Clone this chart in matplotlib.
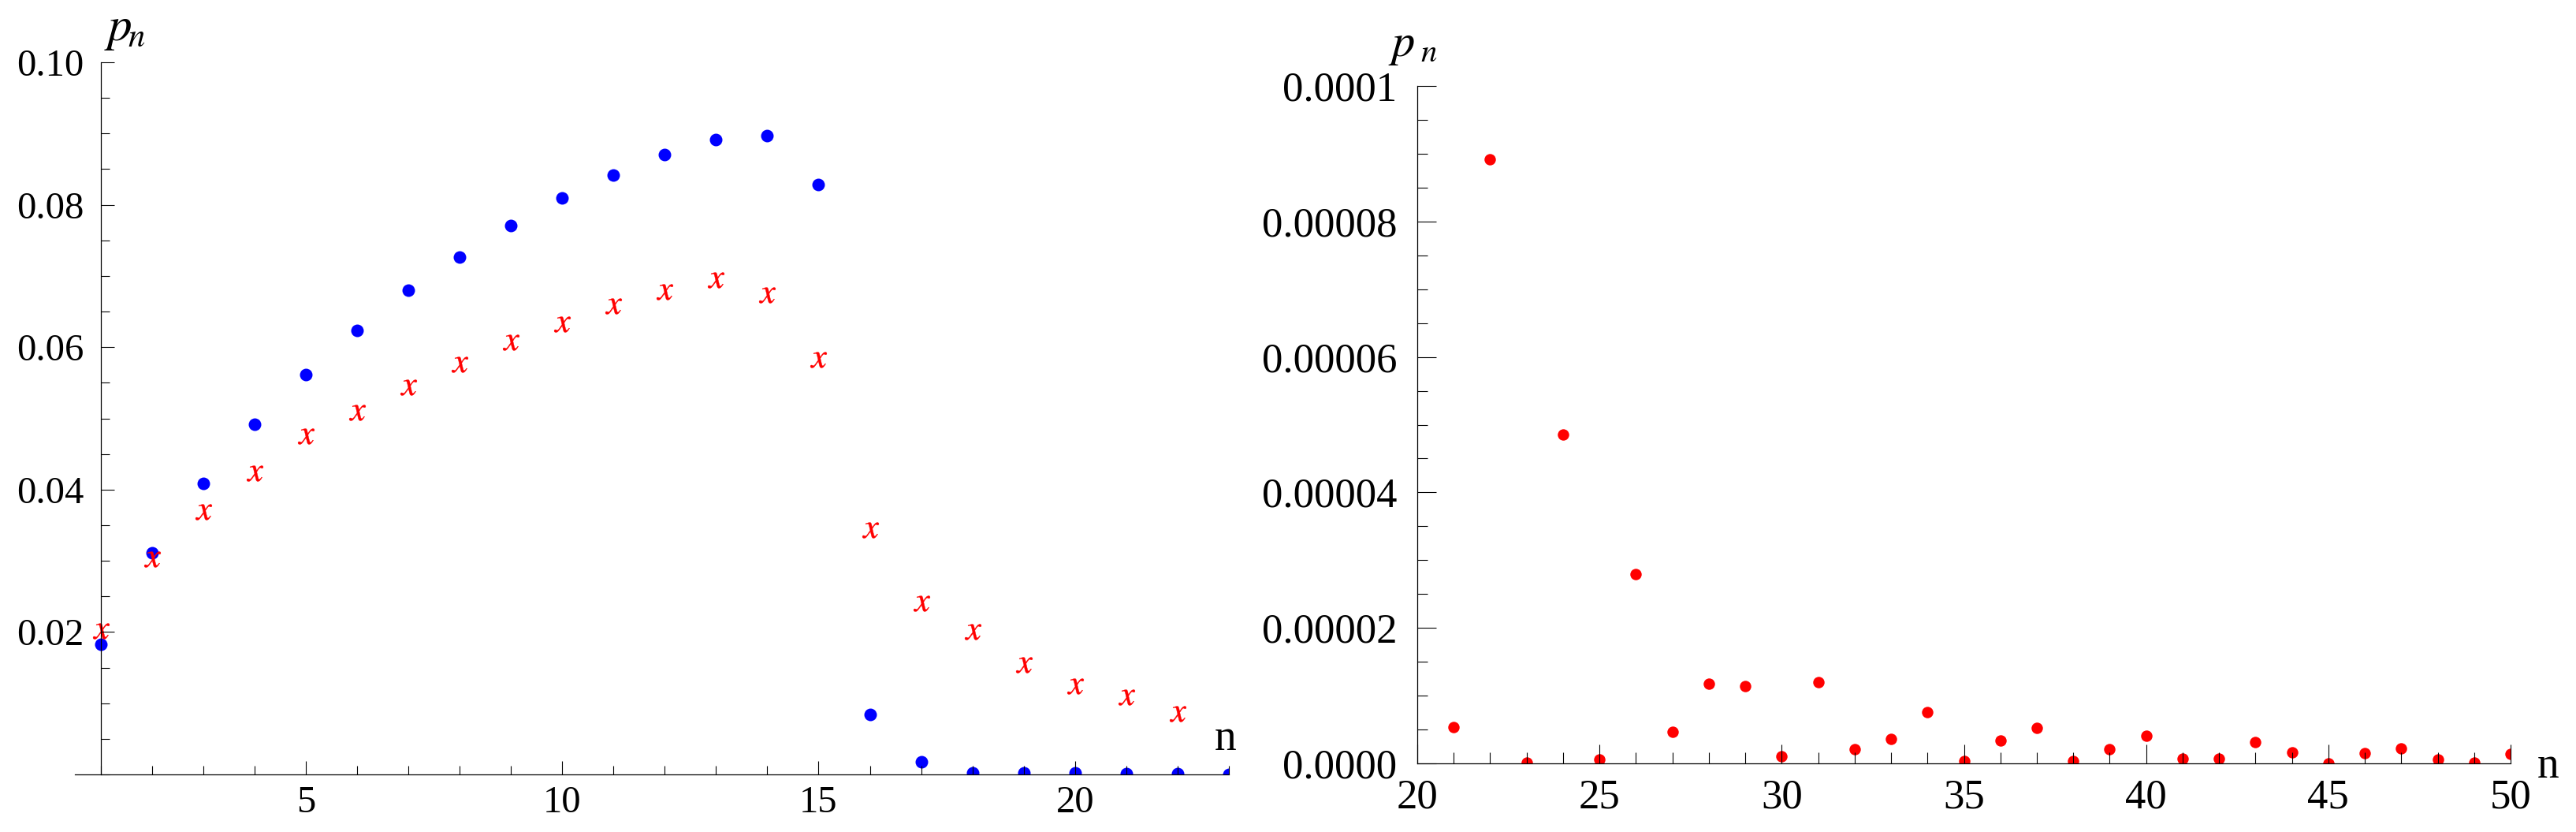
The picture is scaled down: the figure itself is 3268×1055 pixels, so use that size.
import matplotlib
matplotlib.use("Agg")
import matplotlib.pyplot as plt
import numpy as np
from matplotlib.ticker import MultipleLocator

plt.rcParams['font.family'] = ['Liberation Serif', 'DejaVu Serif']
plt.rcParams['mathtext.fontset'] = 'stix'

# left panel: dots and crosses for n = 1..23
n_dots = np.arange(1, 24)
p_dots = [0.0183, 0.0311, 0.0409, 0.0492, 0.0562, 0.0624, 0.0680, 0.0727, 0.0771, 0.0809,
          0.0842, 0.0870, 0.0892, 0.0897, 0.0828, 0.0084, 0.0018, 0.0002, 0.0002, 0.0002,
          0.0001, 0.0001, 0.0000]
n_cross = np.arange(1, 23)
p_cross = [0.0201, 0.0302, 0.0369, 0.0423, 0.0475, 0.0508, 0.0544, 0.0576, 0.0607, 0.0632,
           0.0658, 0.0678, 0.0694, 0.0673, 0.0583, 0.0343, 0.0240, 0.0200, 0.0154, 0.0124,
           0.0109, 0.0085]

# right panel: tail n = 21..50
n_tail = np.arange(21, 51)
p_tail = [5.4e-6, 8.92e-5, 1e-7, 4.85e-5, 6e-7, 2.79e-5, 4.7e-6, 1.18e-5, 1.14e-5, 1.0e-6,
          1.20e-5, 2.1e-6, 3.6e-6, 7.6e-6, 4e-7, 3.4e-6, 5.2e-6, 3e-7, 2.1e-6, 4.1e-6,
          7e-7, 7e-7, 3.1e-6, 1.65e-6, 0.0, 1.5e-6, 2.2e-6, 6e-7, 1e-7, 1.4e-6]

left_yticks = [0.02, 0.04, 0.06, 0.08, 0.10]
left_ylabels = ['0.02', '0.04', '0.06', '0.08', '0.10']
left_xticks = [5, 10, 15, 20]
right_yticks = [0.0, 2e-5, 4e-5, 6e-5, 8e-5, 1e-4]
right_ylabels = ['0.0000', '0.00002', '0.00004', '0.00006', '0.00008', '0.0001']
right_xticks = [20, 25, 30, 35, 40, 45, 50]

W, H = 3268, 1055
fig = plt.figure(figsize=(W / 100, H / 100), dpi=100)

def px_axes(x0, x1, ytop, ybot):
    return fig.add_axes([x0 / W, (H - ybot) / H, (x1 - x0) / W, (ybot - ytop) / H])

def style(ax):
    for s in ['top', 'right']:
        ax.spines[s].set_visible(False)
    for s in ['left', 'bottom']:
        ax.spines[s].set_linewidth(0.9)
    ax.set_axisbelow(False)

# ---- left panel
ax1 = px_axes(95, 1559, 79, 982)
style(ax1)
ax1.spines['left'].set_position(('data', 1))
ax1.plot(n_dots, p_dots, ls='', marker='o', ms=11.5, color='#0000ff', mec='none')
ax1.plot(n_cross, p_cross, ls='', marker=r'$x$', ms=15, color='#ff0000', mew=0.3)
ax1.set_xlim(0.5, 23)
ax1.set_ylim(0, 0.1)
ax1.set_yticks(left_yticks, left_ylabels)
ax1.yaxis.set_minor_locator(MultipleLocator(0.005))
ax1.set_xticks(left_xticks)
ax1.xaxis.set_minor_locator(MultipleLocator(1))
ax1.tick_params(axis='y', which='major', direction='in', length=12, width=0.8, pad=15, labelsize=35)
ax1.tick_params(axis='y', which='minor', direction='in', length=8, width=0.8)
ax1.tick_params(axis='x', which='major', direction='in', length=12, width=0.8, pad=10, labelsize=35)
ax1.tick_params(axis='x', which='minor', direction='in', length=8, width=0.8)
ax1.text(0.0435, 1.045, r'$p_{\!n}$', transform=ax1.transAxes, ha='center', va='center', fontsize=44)
ax1.text(0.997, 0.05, 'n', transform=ax1.transAxes, ha='center', va='center', fontsize=40)

# ---- right panel
ax2 = px_axes(1798, 3185, 109, 968)
style(ax2)
ax2.plot(n_tail, p_tail, ls='', marker='o', ms=10.4, color='#ff0000', mec='none')
ax2.set_xlim(20, 50)
ax2.set_ylim(0, 1e-4)
ax2.set_yticks(right_yticks, right_ylabels)
ax2.yaxis.set_minor_locator(MultipleLocator(5e-6))
ax2.set_xticks(right_xticks)
ax2.xaxis.set_minor_locator(MultipleLocator(1))
ax2.tick_params(axis='y', which='major', direction='in', length=17, width=0.8, pad=18.5, labelsize=38)
ax2.tick_params(axis='y', which='minor', direction='in', length=9, width=0.8)
ax2.tick_params(axis='x', which='major', direction='in', length=17, width=0.8, pad=14, labelsize=38)
ax2.tick_params(axis='x', which='minor', direction='in', length=10, width=0.8)
ax2.text(-0.004, 1.058, r'$p_{\;n}$', transform=ax2.transAxes, ha='center', va='center', fontsize=42)
ax2.text(1.034, -0.005, 'n', transform=ax2.transAxes, ha='center', va='center', fontsize=40)

fig.savefig('out.png', dpi=100)
